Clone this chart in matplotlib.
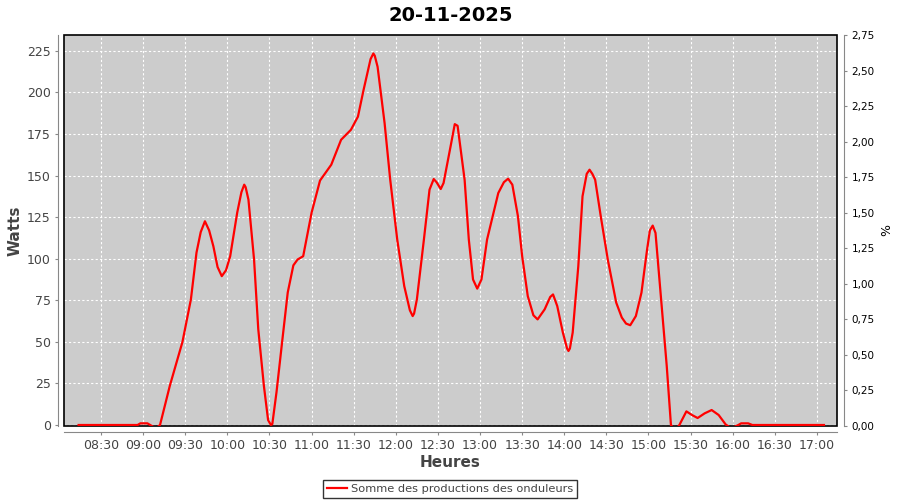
import pandas as pd
import matplotlib.pyplot as plt
import matplotlib.dates as mdates
from matplotlib.patches import Rectangle
from matplotlib.ticker import MultipleLocator, FuncFormatter

# data (time, watts)
times = ["08:14", "08:56", "08:58", "09:03", "09:05", "09:09", "09:12",
         "09:19", "09:28", "09:34", "09:38", "09:41", "09:44", "09:47",
         "09:50", "09:53", "09:56", "09:59", "10:02", "10:07", "10:10",
         "10:12", "10:13", "10:15", "10:19", "10:22", "10:26",
         "10:29", "10:31", "10:32", "10:35", "10:39", "10:43", "10:47",
         "10:50", "10:54", "11:00", "11:06", "11:14", "11:21", "11:28",
         "11:33", "11:37", "11:42", "11:44", "11:45", "11:47", "11:52",
         "11:56", "12:01", "12:06", "12:10", "12:12", "12:13", "12:15",
         "12:20", "12:24", "12:27", "12:29", "12:32", "12:34",
         "12:39", "12:42", "12:44", "12:49", "12:52", "12:55", "12:58",
         "13:01", "13:05", "13:13", "13:17", "13:20", "13:23", "13:27",
         "13:30", "13:34", "13:38", "13:41", "13:46", "13:50", "13:52",
         "13:55", "13:59", "14:02", "14:03", "14:04", "14:06", "14:10",
         "14:13", "14:16", "14:18", "14:20", "14:22", "14:26", "14:31",
         "14:37", "14:41", "14:44", "14:47", "14:51", "14:55", "14:59",
         "15:01", "15:03", "15:05", "15:09", "15:13", "15:16", "15:19",
         "15:22", "15:27", "15:31", "15:35", "15:40", "15:45", "15:50",
         "15:55", "15:59", "16:04", "16:06", "16:11", "16:14", "17:05"]
watts = [0, 0, 1, 1, 0, -2, 0,
         23.6, 50, 75.5, 103.7, 116, 122.5, 117,
         107.5, 95, 89.5, 93, 101.5, 127.7, 140,
         144.5, 143, 135.5, 99.5, 57.6, 23.6,
         3, 0, 0.5, 19.8, 50, 79.7, 96,
         99.5, 101.5, 127.7, 147, 156.5, 171.5, 177.5,
         185.4, 201.4, 220, 223.4, 222, 215.4, 181.5,
         147.5, 111.5, 83.5, 69, 65.5, 67, 75.5,
         111.5, 141.5, 147.9, 146, 141.9, 145.5,
         167.5, 180.9, 179.9, 147.5, 111.5, 87.5, 82,
         87.5, 111.5, 139.5, 146, 148.1, 144.5, 125.5,
         101.5, 77.5, 66, 63.5, 69.5, 77, 78.5,
         71.5, 55.6, 46, 44.5, 46, 55.6, 95.5,
         137.5, 151, 153.5, 151, 147.5, 125.5, 99.5,
         73.6, 64.6, 61, 60, 65.5, 79.6, 105.5,
         117, 119.9, 115.5, 75.5, 35.5, 0, -3,
         0, 8.2, 6, 4.2, 7, 9, 6,
         0.3, -2, 0, 1, 1, 0, 0]

day = "2025-11-20 "
t = pd.to_datetime([day + s for s in times])

fig = plt.figure(figsize=(9, 5), dpi=100)
ax = fig.add_axes([64 / 900, 1 - 426 / 500, (837 - 64) / 900, (426 - 35) / 500])
ax.set_facecolor("#cccccc")

ax.plot(t, watts, color="red", lw=1.6, label="Somme des productions des onduleurs", zorder=6)

ax.set_xlim(pd.Timestamp(day + "08:03:36"), pd.Timestamp(day + "17:14:18"))
ax.set_ylim(-0.6, 234.5)
ax.yaxis.set_major_locator(MultipleLocator(25))
ax.xaxis.set_major_locator(mdates.MinuteLocator(byminute=[0, 30]))
ax.xaxis.set_major_formatter(mdates.DateFormatter("%H:%M"))
ax.grid(True, color="white", ls=(0, (2, 2)), lw=0.8)

for side in ["left", "bottom"]:
    ax.spines[side].set_position(("outward", 4))
    ax.spines[side].set_color("#888888")
for side in ["top", "right"]:
    ax.spines[side].set_visible(False)
ax.tick_params(colors="#888888", labelcolor="#444444", labelsize=9, length=2, width=0.8)
ax.add_patch(Rectangle((0, 0), 1, 1, transform=ax.transAxes, fill=False,
                       ec="black", lw=1.2, clip_on=False, zorder=5))

ax.set_ylabel("Watts", fontsize=11, fontweight="bold", color="#444444", labelpad=3)
ax.set_xlabel("Heures", fontsize=11, fontweight="bold", color="#444444", labelpad=2)
ax.set_title("20-11-2025", fontsize=14, fontweight="bold", pad=10)

ax2 = ax.twinx()
ax2.set_ylim(0, 2.75)
ax2.yaxis.set_major_locator(MultipleLocator(0.25))
ax2.yaxis.set_major_formatter(FuncFormatter(lambda v, p: f"{v:.2f}".replace(".", ",")))
for side in ["left", "bottom", "top"]:
    ax2.spines[side].set_visible(False)
ax2.spines["right"].set_position(("outward", 5))
ax2.spines["right"].set_color("#888888")
ax2.tick_params(colors="#888888", labelcolor="black", labelsize=7.5, length=2, width=0.8)
ax2.set_ylabel("%", fontsize=9, labelpad=4)

leg = fig.legend(loc="lower center", bbox_to_anchor=(0.5, 0.004), frameon=True,
                 fontsize=8.2, fancybox=False, borderpad=0.35, handlelength=1.8,
                 handletextpad=0.3, labelcolor="#444444", borderaxespad=0)
leg.get_frame().set_edgecolor("black")
leg.get_frame().set_linewidth(1)

fig.savefig("out.png", dpi=100)
